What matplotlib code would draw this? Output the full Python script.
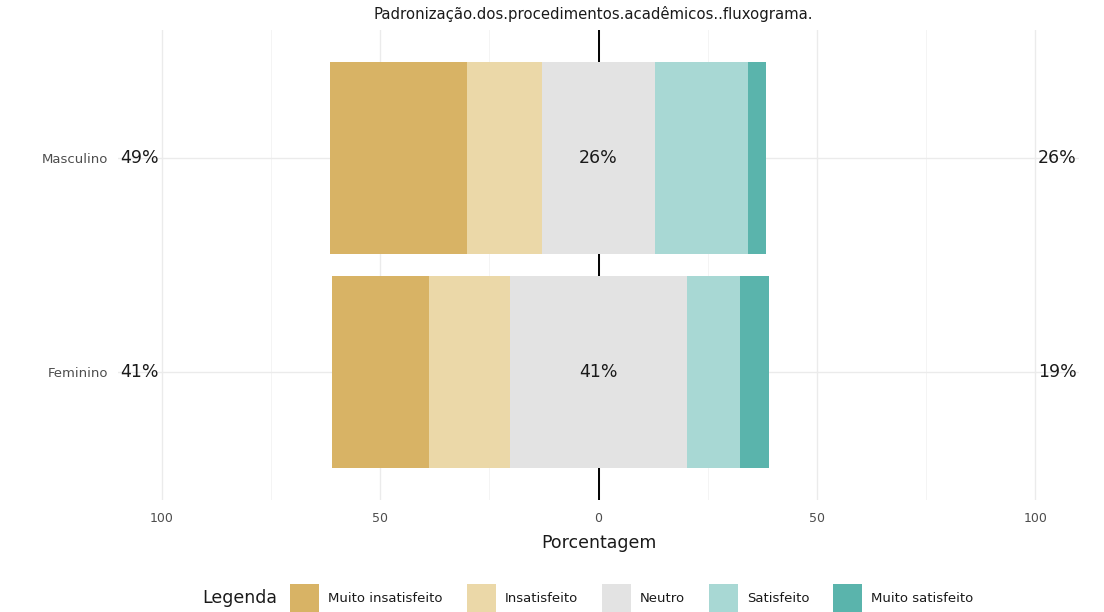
import matplotlib
matplotlib.use("Agg")
import matplotlib.pyplot as plt
from matplotlib.patches import Rectangle
import numpy as np

plt.rcParams['font.family'] = ['DejaVu Sans']

title = "Padronização.dos.procedimentos.acadêmicos..fluxograma."
groups = ["Feminino", "Masculino"]
levels = ["Muito insatisfeito", "Insatisfeito", "Neutro", "Satisfeito", "Muito satisfeito"]
colors = ["#D8B365", "#EBD8A8", "#E3E3E3", "#A8D8D4", "#5AB4AC"]
muito_insat = [22.2, 31.4]
insat = [18.5, 17.3]
neutro = [40.7, 25.7]
satisf = [12.0, 21.3]
muito_sat = [6.6, 4.3]
tick_vals = [-100, -50, 0, 50, 100]
tick_labels = ["100", "50", "0", "50", "100"]
minor_vals = [-75, -25, 25, 75]

W, H = 1104, 612
fig = plt.figure(figsize=(W / 100, H / 100), dpi=100)
ax = fig.add_axes([118 / W, 1 - 500 / H, 961 / W, 470 / H])

y = np.arange(1, len(groups) + 1)
mi = np.array(muito_insat); ins = np.array(insat); ne = np.array(neutro)
sa = np.array(satisf); ms = np.array(muito_sat)

# grid
for v in tick_vals:
    ax.axvline(v, color="#EBEBEB", lw=1.0, zorder=0)
for v in minor_vals:
    ax.axvline(v, color="#F2F2F2", lw=0.6, zorder=0)
for yy in y:
    ax.axhline(yy, color="#EBEBEB", lw=1.0, zorder=0)
ax.axvline(0, color="black", lw=1.4, zorder=1)

h = 0.9
ax.barh(y, -ne / 2, height=h, color=colors[2], zorder=2)
ax.barh(y, -ins, left=-ne / 2, height=h, color=colors[1], zorder=2)
ax.barh(y, -mi, left=-ne / 2 - ins, height=h, color=colors[0], zorder=2)
ax.barh(y, ne / 2, height=h, color=colors[2], zorder=2)
ax.barh(y, sa, left=ne / 2, height=h, color=colors[3], zorder=2)
ax.barh(y, ms, left=ne / 2 + sa, height=h, color=colors[4], zorder=2)

low = mi + ins
high = sa + ms
for i, yy in enumerate(y):
    ax.text(-105, yy, f"{int(round(low[i]))}%", ha="center", va="center", fontsize=12.5, color="#1a1a1a", zorder=3)
    ax.text(0, yy, f"{int(round(ne[i]))}%", ha="center", va="center", fontsize=12.5, color="#1a1a1a", zorder=3)
    ax.text(105, yy, f"{int(round(high[i]))}%", ha="center", va="center", fontsize=12.5, color="#1a1a1a", zorder=3)

ax.set_xlim(-110, 110)
ax.set_ylim(0.4, 2.6)
ax.set_xticks(tick_vals)
ax.set_xticklabels(tick_labels, fontsize=9, color="#4D4D4D")
ax.set_yticks(y)
ax.set_yticklabels(groups, fontsize=9.5, color="#4D4D4D")
ax.tick_params(length=0, pad=9)
ax.tick_params(axis="y", pad=7)
for s in ax.spines.values():
    s.set_visible(False)
ax.set_xlabel("Porcentagem", fontsize=12.5, color="#1a1a1a", labelpad=6)
fig.text(593 / W, 1 - 14 / H, title, ha="center", va="center", fontsize=10.7, color="#1a1a1a")

# legend, laid out left to right
fig.canvas.draw()
renderer = fig.canvas.get_renderer()
ly = 1 - 598 / H
t = fig.text(202 / W, ly, "Legenda", ha="left", va="center", fontsize=12.5, color="#1a1a1a")
x = 290
box = 29
for lab, col in zip(levels, colors):
    fig.patches.append(Rectangle((x / W, ly - (box / 2) / H), box / W, box / H,
                                 transform=fig.transFigure, facecolor=col, edgecolor="none"))
    x += box + 9
    tt = fig.text(x / W, ly, lab, ha="left", va="center", fontsize=9.5, color="#1a1a1a")
    wpx = tt.get_window_extent(renderer=renderer).width
    x += wpx + 24

fig.savefig("out.png", dpi=100, facecolor="white")
